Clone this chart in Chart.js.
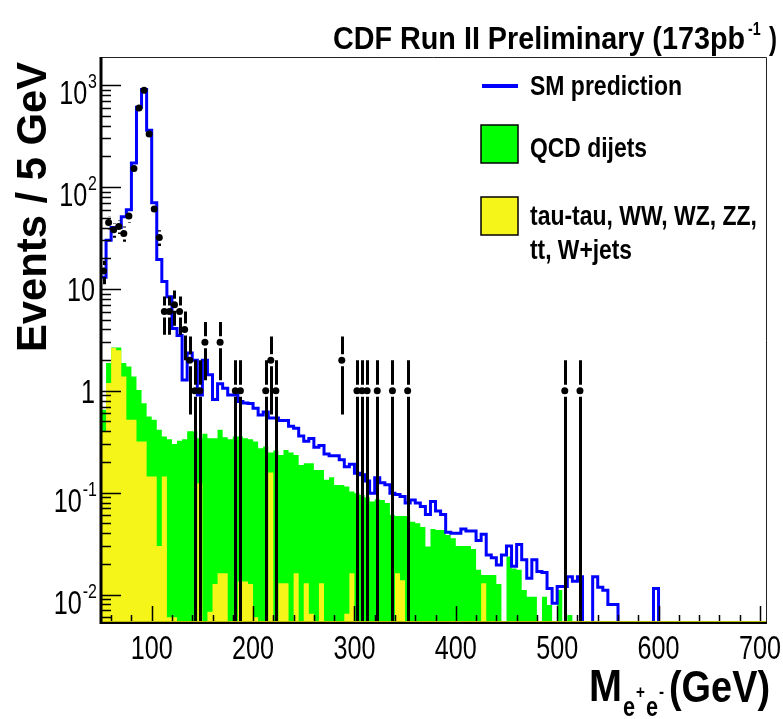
<!DOCTYPE html>
<html>
<head>
<meta charset="utf-8">
<script src="https://cdn.jsdelivr.net/npm/chart.js@4.4.0/dist/chart.umd.min.js"></script>
<style>
  html, body { margin: 0; padding: 0; background: #fff; }
  #wrap { width: 783px; height: 719px; position: relative; }
</style>
</head>
<body>
<div id="wrap"><canvas id="myChart"></canvas></div>
<script>
// histogram binning: 5 GeV bins starting at 50 GeV
const binLow = 50;
const binWidth = 5;

// SM prediction (blue line), events per bin
const smPrediction = [
  13, 30, 40, 40, 51, 60, 172, 606, 905, 360,
  70, 19.4, 11.8, 8.4, 4.1, 3.5, 1.28, 2.35, 2.0, 0.91,
  2.0, 1.44, 0.82, 1.17, 1.06, 0.91, 0.91, 0.785, 0.76, 0.75,
  0.675, 0.58, 0.62, 0.54, 0.54, 0.51, 0.51, 0.45, 0.43, 0.36,
  0.32, 0.34, 0.28, 0.29, 0.24, 0.23, 0.23, 0.21, 0.18, 0.19,
  0.155, 0.15, 0.13, 0.099, 0.14, 0.125, 0.12, 0.099, 0.096, 0.092,
  0.079, 0.085, 0.079, 0.073, 0.061, 0.082, 0.066, 0.061, 0.041, 0.040,
  0.040, 0.044, 0.042, 0.042, 0.034, 0.039, 0.0245, 0.023, 0.0195, 0.0245,
  0.030, 0.019, 0.031, 0.022, 0.0145, 0.022, 0.0168, 0.0165, 0.0115, 0.0082,
  0.012, 0.012, 0.015, 0.0135, 0.015, 0, 0, 0.015, 0.0118, 0.011,
  0.008, 0.008, 0, 0, 0, 0, 0, 0, 0, 0.0115,
  0, 0, 0, 0, 0, 0, 0, 0, 0, 0,
  0, 0, 0, 0, 0, 0, 0, 0, 0, 0, 0
];

// QCD dijets (green)
const qcdDijets = [
  0.65, 1.87, 2.66, 2.66, 1.87, 1.73, 1.38, 1.02, 0.757, 0.56,
  0.52, 0.414, 0.356, 0.335, 0.30, 0.323, 0.335, 0.40, 0.40, 0.343,
  0.378, 0.343, 0.343, 0.414, 0.35, 0.335, 0.356, 0.356, 0.343, 0.335,
  0.318, 0.273, 0.284, 0.248, 0.259, 0.235, 0.263, 0.248, 0.235, 0.187,
  0.195, 0.195, 0.167, 0.167, 0.134, 0.142, 0.119, 0.119, 0.115, 0.103,
  0.099, 0.095, 0.09, 0.082, 0.086, 0.085, 0.079, 0.0605, 0.059, 0.059,
  0.059, 0.052, 0.050, 0.046, 0.0296, 0.044, 0.043, 0.043, 0.0385, 0.0357,
  0.030, 0.030, 0.030, 0.028, 0.0175, 0.0156, 0.0156, 0.0156, 0.0127, 0,
  0.0236, 0.018, 0.0175, 0.0111, 0.0095, 0.0095, 0, 0.0095, 0.0079, 0,
  0.0111, 0, 0.0063, 0, 0, 0, 0, 0, 0, 0,
  0, 0, 0, 0, 0, 0, 0, 0, 0, 0,
  0, 0, 0, 0, 0, 0, 0, 0, 0, 0,
  0, 0, 0, 0, 0, 0, 0, 0, 0, 0, 0
];

// tau-tau, WW, WZ, ZZ, tt, W+jets (yellow)
const otherBkg = [
  0.4, 1.19, 2.63, 2.5, 1.38, 0.52, 0.52, 0.318, 0.318, 0.144,
  0.144, 0.03, 0.144, 0.006, 0.006, 0, 0, 0, 0, 0.124,
  0, 0.0068, 0.0127, 0.0162, 0.0162, 0, 0, 0.0134, 0.0134, 0.0127,
  0.006, 0, 0, 0.158, 0, 0.0129, 0.0129, 0, 0.0162, 0,
  0.0129, 0.0065, 0, 0.0129, 0, 0, 0, 0, 0.0065, 0.0162,
  0, 0, 0, 0, 0, 0, 0, 0, 0.0162, 0.0138,
  0, 0, 0, 0, 0, 0, 0, 0, 0, 0,
  0, 0, 0, 0, 0, 0.0129, 0, 0, 0, 0,
  0, 0, 0, 0, 0, 0, 0, 0, 0, 0,
  0, 0, 0, 0, 0, 0, 0, 0, 0, 0,
  0, 0, 0, 0, 0, 0, 0, 0, 0, 0,
  0, 0, 0, 0, 0, 0, 0, 0, 0, 0,
  0, 0, 0, 0, 0, 0, 0, 0, 0, 0, 0
];

// data: bin centres (GeV) and observed events
const dataMass = [52.5, 57.5, 62.5, 67.5, 72.5, 77.5, 82.5, 87.5, 92.5, 97.5,
  102.5, 107.5, 112.5, 117.5, 122.5, 127.5, 132.5, 137.5, 142.5, 147.5,
  152.5, 167.5, 182.5, 187.5, 212.5, 217.5, 222.5, 287.5, 302.5, 307.5,
  312.5, 322.5, 337.5, 352.5, 507.5, 522.5];
const dataEvents = [15, 45, 38, 41, 35, 52, 152, 598, 891, 332,
  61, 32, 6, 6, 7, 6, 4, 2, 1, 1,
  3, 3, 1, 1, 1, 2, 1, 2, 1, 1,
  1, 1, 1, 1, 1, 1];

const xTickLabels = [100, 200, 300, 400, 500, 600, 700];
const yTickValues = [0.01, 0.1, 1, 10, 100, 1000];
const yTickLabels = [["10", "-2"], ["10", "-1"], ["1", ""], ["10", ""], ["10", "2"], ["10", "3"]];

// log axis cannot show empty bins, so they sit below the frame (clipped)
const EMPTY = 1e-3;

function steps(vals) {
  const pts = vals.map((v, i) => ({ x: binLow + i * binWidth, y: v > 0 ? v : EMPTY }));
  pts.push({ x: binLow + vals.length * binWidth, y: pts[pts.length - 1].y });
  return pts;
}

const FONT = '"Liberation Sans", Arial, Helvetica, sans-serif';

function txt(ctx, s, x, y, size, bold, hs, align) {
  ctx.save();
  ctx.font = (bold ? 'bold ' : '') + size + 'px ' + FONT;
  ctx.textAlign = align || 'left';
  ctx.textBaseline = 'alphabetic';
  ctx.fillStyle = '#000';
  ctx.translate(x, y);
  ctx.scale(hs, 1);
  ctx.fillText(s, 0, 0);
  ctx.restore();
}

// scale text horizontally so it spans the wanted width
function fitTxt(ctx, s, x, y, size, bold, width, align) {
  ctx.save();
  ctx.font = (bold ? 'bold ' : '') + size + 'px ' + FONT;
  const w = ctx.measureText(s).width;
  ctx.restore();
  txt(ctx, s, x, y, size, bold, width / w, align);
}

const errorBars = {
  id: 'errorBars',
  beforeDatasetDraw(chart, args) {
    if (args.index !== 3) return;
    const { ctx, chartArea } = chart;
    const xs = chart.scales.x, ys = chart.scales.y;
    ctx.save();
    ctx.beginPath();
    ctx.rect(chartArea.left, chartArea.top, chartArea.right - chartArea.left, chartArea.bottom - chartArea.top);
    ctx.clip();
    ctx.strokeStyle = '#000';
    ctx.lineWidth = 3;
    dataMass.forEach((m, i) => {
      const n = dataEvents[i];
      const e = Math.sqrt(n);
      const px = Math.round(xs.getPixelForValue(m)) + 0.5;
      const pc = ys.getPixelForValue(n);
      const pHi = ys.getPixelForValue(n + e);
      const pLo = (n - e) > 1e-6 ? ys.getPixelForValue(n - e) : chartArea.bottom;
      const gap = 6;
      ctx.beginPath();
      if (pc - pHi > gap) { ctx.moveTo(px, pc - gap); ctx.lineTo(px, pHi); }
      if (pLo - pc > gap) { ctx.moveTo(px, pc + gap); ctx.lineTo(px, pLo); }
      ctx.stroke();
    });
    ctx.restore();
  }
};

const frame = {
  id: 'frame',
  afterDraw(chart) {
    const { ctx, chartArea: a } = chart;
    const xs = chart.scales.x, ys = chart.scales.y;
    ctx.save();
    // y ticks inside the frame
    ctx.strokeStyle = '#000';
    ctx.lineWidth = 1.5;
    ctx.beginPath();
    for (let d = -3; d <= 3; d++) {
      for (let k = 1; k <= 9; k++) {
        const v = k * Math.pow(10, d);
        if (v < ys.min || v > ys.max) continue;
        const py = Math.round(ys.getPixelForValue(v)) + 0.5;
        const len = k === 1 ? 20 : 10;
        ctx.moveTo(a.left, py);
        ctx.lineTo(a.left + len, py);
      }
    }
    ctx.stroke();
    // x ticks
    ctx.beginPath();
    for (let v = 60; v <= 700; v += 20) {
      const px = Math.round(xs.getPixelForValue(v)) + 0.5;
      const len = v % 100 === 0 ? 17 : 8;
      ctx.moveTo(px, a.bottom);
      ctx.lineTo(px, a.bottom - len);
    }
    ctx.stroke();
    // frame
    ctx.lineWidth = 1;
    ctx.strokeStyle = '#222';
    ctx.beginPath();
    ctx.moveTo(a.left, a.top + 0.5); ctx.lineTo(a.right + 0.5, a.top + 0.5);
    ctx.lineTo(a.right + 0.5, a.bottom);
    ctx.stroke();
    ctx.strokeStyle = '#b8b800';
    ctx.lineWidth = 1;
    ctx.beginPath();
    ctx.moveTo(a.left, a.bottom - 1.5); ctx.lineTo(a.right, a.bottom - 1.5);
    ctx.stroke();
    ctx.strokeStyle = '#000';
    ctx.lineWidth = 2;
    ctx.beginPath();
    ctx.moveTo(a.left - 1, a.bottom); ctx.lineTo(a.right + 1, a.bottom);
    ctx.stroke();
    ctx.lineWidth = 3;
    ctx.beginPath();
    ctx.moveTo(a.left, a.top); ctx.lineTo(a.left, a.bottom + 1);
    ctx.stroke();

    // x tick labels
    xTickLabels.forEach(v => {
      txt(ctx, String(v), xs.getPixelForValue(v), 659, 34, false, 0.74, 'center');
    });
    // y tick labels
    yTickValues.forEach((v, i) => {
      const py = ys.getPixelForValue(v);
      const [base, sup] = yTickLabels[i];
      if (sup) {
        ctx.save();
        ctx.font = '21px ' + FONT;
        const sw = ctx.measureText(sup).width * 0.76;
        ctx.restore();
        txt(ctx, sup, 97, py + 3, 21, false, 0.76, 'right');
        txt(ctx, base, 97 - sw - 1, py + 19, 34, false, 0.74, 'right');
      } else {
        txt(ctx, base, 95, py + 12, 34, false, 0.74, 'right');
      }
    });

    // axis titles
    ctx.save();
    ctx.translate(46, 207);
    ctx.rotate(-Math.PI / 2);
    fitTxt(ctx, 'Events / 5 GeV', 0, 0, 43, true, 290, 'center');
    ctx.restore();

    fitTxt(ctx, 'M', 589, 701, 44, true, 33, 'left');
    txt(ctx, 'e', 623, 716, 27, true, 0.8, 'left');
    txt(ctx, '+', 636, 698, 19, true, 0.8, 'left');
    txt(ctx, 'e', 646, 716, 27, true, 0.8, 'left');
    txt(ctx, '-', 659, 698, 19, true, 0.8, 'left');
    fitTxt(ctx, '(GeV)', 669, 702, 44, true, 101, 'left');

    // title
    fitTxt(ctx, 'CDF Run II Preliminary (173pb', 333, 49, 32, true, 412, 'left');
    txt(ctx, '-1', 748, 35, 19, true, 0.75, 'left');
    txt(ctx, ')', 769, 49, 32, true, 0.75, 'left');

    // legend
    ctx.strokeStyle = '#0000ff';
    ctx.lineWidth = 4;
    ctx.beginPath();
    ctx.moveTo(482, 86); ctx.lineTo(518, 86);
    ctx.stroke();
    ctx.lineWidth = 1.5;
    ctx.strokeStyle = '#000';
    ctx.fillStyle = '#00ff00';
    ctx.fillRect(481, 125, 37, 38);
    ctx.strokeRect(481, 125, 37, 38);
    ctx.fillStyle = '#f5f51a';
    ctx.fillRect(481, 197, 37, 38);
    ctx.strokeRect(481, 197, 37, 38);
    fitTxt(ctx, 'SM prediction', 530, 95, 28, true, 152, 'left');
    fitTxt(ctx, 'QCD dijets', 530, 157, 28, true, 117, 'left');
    fitTxt(ctx, 'tau-tau, WW, WZ, ZZ,', 530, 225, 28, true, 227, 'left');
    fitTxt(ctx, 'tt, W+jets', 530, 259, 28, true, 102, 'left');
    ctx.restore();
  }
};

const ctx = document.getElementById('myChart');

new Chart(ctx, {
  type: 'line',
  data: {
    datasets: [
      {
        label: 'QCD dijets',
        data: steps(qcdDijets),
        stepped: 'before',
        fill: 'start',
        backgroundColor: '#00ff00',
        borderColor: 'rgba(0,0,0,0)',
        borderWidth: 0,
        pointRadius: 0,
        order: 4
      },
      {
        label: 'tau-tau, WW, WZ, ZZ, tt, W+jets',
        data: steps(otherBkg),
        stepped: 'before',
        fill: 'start',
        backgroundColor: '#f5f51a',
        borderColor: 'rgba(0,0,0,0)',
        borderWidth: 0,
        pointRadius: 0,
        order: 3
      },
      {
        label: 'SM prediction',
        data: steps(smPrediction),
        stepped: 'before',
        fill: false,
        borderColor: '#0000ff',
        borderWidth: 3,
        pointRadius: 0,
        order: 2
      },
      {
        label: 'Data',
        data: dataMass.map((m, i) => ({ x: m, y: dataEvents[i] })),
        showLine: false,
        pointRadius: 3.5,
        pointBackgroundColor: '#000',
        pointBorderWidth: 0,
        order: 1
      }
    ]
  },
  options: {
    responsive: true,
    maintainAspectRatio: false,
    animation: false,
    layout: { autoPadding: false, padding: { left: 0, top: 57, right: 17, bottom: 0 } },
    plugins: {
      legend: { display: false },
      title: { display: false },
      tooltip: { enabled: false }
    },
    scales: {
      x: {
        type: 'linear',
        min: 50,
        max: 706,
        grid: { display: false },
        border: { display: false },
        ticks: { display: false },
        afterFit: (s) => { s.height = 96; }
      },
      y: {
        type: 'logarithmic',
        min: 0.00526,
        max: 1890,
        grid: { display: false },
        border: { display: false },
        ticks: { display: false },
        afterFit: (s) => { s.width = 101; }
      }
    }
  },
  plugins: [errorBars, frame]
});
</script>
</body>
</html>
